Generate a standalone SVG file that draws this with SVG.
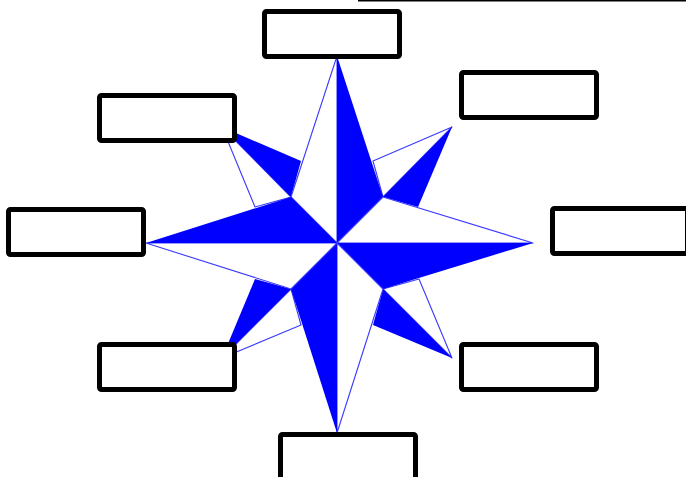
<svg xmlns="http://www.w3.org/2000/svg" width="686" height="477" viewBox="0 0 686 477">
<style>
.b{fill:#0000ff;stroke:none}
.w{fill:#ffffff;stroke:#3a3aff;stroke-width:1.1;stroke-linejoin:round}
.box{fill:#ffffff;stroke:#000000;stroke-width:5}
</style>
<rect width="686" height="477" fill="#ffffff"/>
<line x1="358" y1="0.75" x2="686" y2="0.75" stroke="#000" stroke-width="1.5"/>
<g id="rose">
  <!-- secondary points -->
  <g id="pt-ne">
    <polygon class="w" points="452,127 373,161 383,197"/>
    <polygon class="b" points="383,197 452,127 418,207"/>
  </g>
  <g id="pt-se">
    <polygon class="w" points="452,358 419,279 383,289"/>
    <polygon class="b" points="383,289 452,358 373,325"/>
  </g>
  <g id="pt-sw">
    <polygon class="w" points="222,358 301,325 291,289"/>
    <polygon class="b" points="291,289 222,358 255,279"/>
  </g>
  <g id="pt-nw">
    <polygon class="w" points="222,127 255,207 291,197"/>
    <polygon class="b" points="291,197 222,127 301,161"/>
  </g>
  <!-- main points -->
  <g id="pt-n">
    <polygon class="w" points="337,243 337,56 291,197"/>
    <polygon class="b" points="337,243 337,56 383,197"/>
  </g>
  <g id="pt-e">
    <polygon class="w" points="337,243 533,243 383,197"/>
    <polygon class="b" points="337,243 533,243 383,289"/>
  </g>
  <g id="pt-s">
    <polygon class="w" points="337,243 337,433 383,289"/>
    <polygon class="b" points="337,243 337,433 291,289"/>
  </g>
  <g id="pt-w">
    <polygon class="w" points="337,243 146,243 291,289"/>
    <polygon class="b" points="337,243 146,243 291,197"/>
  </g>
</g>
<g id="box-n"><rect class="box" x="264.5" y="11.5" width="135" height="45" rx="2"/></g>
<g id="box-ne"><rect class="box" x="461.5" y="72.5" width="135" height="45" rx="2"/></g>
<g id="box-nw"><rect class="box" x="99.5" y="95.5" width="135" height="45" rx="2"/></g>
<g id="box-w"><rect class="box" x="8.5" y="209.5" width="135" height="45" rx="2"/></g>
<g id="box-e"><rect class="box" x="552.5" y="208.5" width="135" height="45" rx="2"/></g>
<g id="box-sw"><rect class="box" x="99.5" y="344.5" width="135" height="45" rx="2"/></g>
<g id="box-se"><rect class="box" x="461.5" y="344.5" width="135" height="45" rx="2"/></g>
<g id="box-s"><rect class="box" x="280.5" y="434.5" width="135" height="45" rx="2"/></g>
</svg>
